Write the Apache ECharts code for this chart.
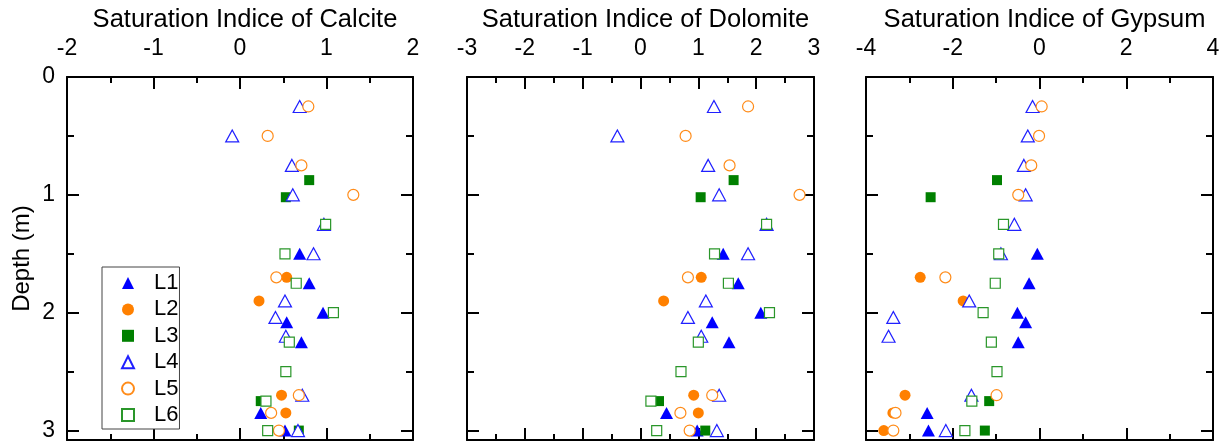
<!DOCTYPE html>
<html><head><meta charset="utf-8">
<script src="https://cdn.jsdelivr.net/npm/echarts@6/dist/echarts.min.js"></script>
<style>html,body{margin:0;padding:0;background:#fff}#c{width:1226px;height:444px}</style>
</head><body><div id="c"></div><script>
// ---- data ----
var panelTitles = ['Saturation Indice of Calcite', 'Saturation Indice of Dolomite', 'Saturation Indice of Gypsum'];
var seriesNames = ['L1', 'L2', 'L3', 'L4', 'L5', 'L6'];
var depthTicks = [0, 1, 2, 3];

var depthL1 = [1.5, 1.75, 2.0, 2.08, 2.25, 2.85, 3.0];
var calciteL1 = [0.69, 0.80, 0.96, 0.54, 0.71, 0.24, 0.52];
var dolomiteL1 = [1.43, 1.69, 2.08, 1.24, 1.53, 0.45, 0.98];
var gypsumL1 = [-0.05, -0.24, -0.51, -0.32, -0.49, -2.59, -2.56];

var depthL2 = [1.7, 1.9, 2.7, 2.85, 3.0];
var calciteL2 = [0.54, 0.22, 0.48, 0.53, 0.45];
var dolomiteL2 = [1.05, 0.40, 0.92, 1.00, 0.85];
var gypsumL2 = [-2.75, -1.76, -3.10, -3.38, -3.59];

var depthL3 = [0.875, 1.02, 2.75, 3.0];
var calciteL3 = [0.80, 0.53, 0.24, 0.68];
var dolomiteL3 = [1.61, 1.04, 0.32, 1.12];
var gypsumL3 = [-0.98, -2.51, -1.16, -1.26];

var depthL4 = [0.25, 0.5, 0.75, 1.0, 1.25, 1.5, 1.9, 2.04, 2.2, 2.7, 3.0];
var calciteL4 = [0.69, -0.09, 0.60, 0.61, 0.97, 0.85, 0.52, 0.41, 0.53, 0.72, 0.67];
var dolomiteL4 = [1.27, -0.40, 1.17, 1.36, 2.18, 1.86, 1.13, 0.82, 1.05, 1.36, 1.32];
var gypsumL4 = [-0.16, -0.27, -0.36, -0.32, -0.58, -0.89, -1.62, -3.37, -3.48, -1.57, -2.16];

var depthL5 = [0.25, 0.5, 0.75, 1.0, 1.7, 2.7, 2.85, 3.0];
var calciteL5 = [0.79, 0.32, 0.71, 1.31, 0.42, 0.68, 0.36, 0.45];
var dolomiteL5 = [1.86, 0.78, 1.54, 2.75, 0.82, 1.24, 0.69, 0.85];
var gypsumL5 = [0.05, -0.01, -0.19, -0.49, -2.17, -0.99, -3.32, -3.37];

var depthL6 = [1.25, 1.5, 1.75, 2.0, 2.25, 2.5, 2.75, 3.0];
var calciteL6 = [0.99, 0.52, 0.65, 1.08, 0.57, 0.53, 0.30, 0.32];
var dolomiteL6 = [2.18, 1.28, 1.52, 2.23, 1.00, 0.70, 0.18, 0.28];
var gypsumL6 = [-0.83, -0.94, -1.02, -1.30, -1.11, -0.98, -1.56, -1.72];

var depths = [depthL1, depthL2, depthL3, depthL4, depthL5, depthL6];
var values = [
  [calciteL1, calciteL2, calciteL3, calciteL4, calciteL5, calciteL6],
  [dolomiteL1, dolomiteL2, dolomiteL3, dolomiteL4, dolomiteL5, dolomiteL6],
  [gypsumL1, gypsumL2, gypsumL3, gypsumL4, gypsumL5, gypsumL6]
];

// ---- styling / layout ----
var FONT = '"Liberation Sans", Arial, sans-serif';
var panels = [
  {min: -2, max: 2, interval: 1, left: 67, width: 346},
  {min: -3, max: 3, interval: 1, left: 467, width: 347},
  {min: -4, max: 4, interval: 2, left: 866, width: 347}
];
var GTOP = 77, GHEIGHT = 363, YMAX = 3.08;
var styles = [
  {symbol: 'triangle', size: [13, 12], color: '#0000FF', hollow: false},
  {symbol: 'circle', size: 11, color: '#FF8000', hollow: false},
  {symbol: 'rect', size: 10, color: '#008000', hollow: false},
  {symbol: 'triangle', size: [13, 12], color: '#2020FF', hollow: true},
  {symbol: 'circle', size: 11, color: '#FF8C1A', hollow: true},
  {symbol: 'rect', size: 10, color: '#2A962A', hollow: true}
];
var lineS = {color: '#000', width: 2};

var grids = [], xAxes = [], yAxes = [], series = [], titles = [];
panels.forEach(function (p, i) {
  grids.push({left: p.left, top: GTOP, width: p.width, height: GHEIGHT});
  titles.push({text: panelTitles[i], left: p.left + p.width / 2, textAlign: 'center', top: 2,
    textStyle: {fontSize: 25.5, fontWeight: 'normal', color: '#000', fontFamily: FONT}});
  ['top', 'bottom'].forEach(function (pos) {
    xAxes.push({gridIndex: i, type: 'value', position: pos, min: p.min, max: p.max, interval: p.interval,
      axisLine: {show: true, onZero: false, lineStyle: lineS},
      axisTick: {show: true, inside: true, length: 12, lineStyle: lineS},
      minorTick: {show: true, splitNumber: 2, length: 6, lineStyle: lineS},
      axisLabel: {show: pos === 'top', fontSize: 23, color: '#000', margin: 17, fontFamily: FONT},
      splitLine: {show: false}, minorSplitLine: {show: false}});
  });
  ['left', 'right'].forEach(function (pos) {
    yAxes.push({gridIndex: i, type: 'value', position: pos, inverse: true, min: 0, max: YMAX, interval: 1,
      axisLine: {show: true, onZero: false, lineStyle: lineS},
      axisTick: {show: true, inside: true, length: 12, lineStyle: lineS},
      minorTick: {show: true, splitNumber: 2, length: 7, lineStyle: lineS},
      axisLabel: {show: pos === 'left' && i === 0, customValues: depthTicks, fontSize: 23, color: '#000', margin: 12, fontFamily: FONT},
      name: (pos === 'left' && i === 0) ? 'Depth (m)' : '', nameLocation: 'middle', nameGap: 33, nameRotate: 90,
      nameTextStyle: {fontSize: 24, color: '#000', fontFamily: FONT},
      splitLine: {show: false}, minorSplitLine: {show: false}});
  });
  seriesNames.forEach(function (nm, k) {
    var st = styles[k];
    var data = depths[k].map(function (d, j) { return [values[i][k][j], d]; });
    series.push({name: nm, type: 'scatter', xAxisIndex: 2 * i, yAxisIndex: 2 * i,
      symbol: st.symbol, symbolSize: st.size, data: data, silent: true, z: 2 + k,
      itemStyle: st.hollow ? {color: '#fff', borderColor: st.color, borderWidth: 1.2, opacity: 1}
                           : {color: st.color, borderWidth: 0, opacity: 1}});
  });
});

var chart = echarts.init(document.getElementById('c'), null, {renderer: 'canvas'});
chart.setOption({
  animation: false,
  backgroundColor: '#fff',
  textStyle: {fontFamily: FONT},
  title: titles,
  grid: grids,
  xAxis: xAxes,
  yAxis: yAxes,
  legend: {data: seriesNames, orient: 'vertical', left: 102, top: 267,
    padding: [5, 1, 3, 19], itemGap: 4.4, itemWidth: 12, itemHeight: 12,
    borderColor: '#444', borderWidth: 1, backgroundColor: '#fff',
    textStyle: {fontSize: 22, color: '#000', lineHeight: 20, padding: [0, 0, 0, 15], fontFamily: FONT}},
  series: series
});
</script></body></html>
